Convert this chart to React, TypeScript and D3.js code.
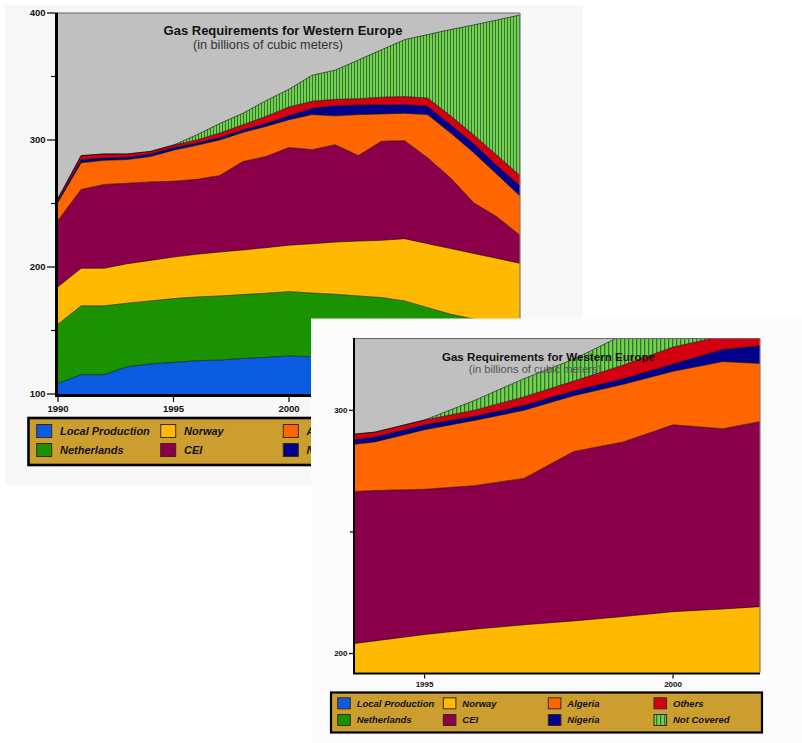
import React from 'react';
import * as d3 from 'd3';

const years = [1990, 1991, 1992, 1993, 1994, 1995, 1996, 1997, 1998, 1999, 2000, 2001, 2002, 2003, 2004, 2005, 2006, 2007, 2008, 2009, 2010];
const localProduction = [108.4, 115.2, 115.2, 121.5, 123.6, 124.9, 126.2, 126.7, 128, 128.8, 130, 129.3, 128, 127, 126, 124, 122, 120, 118, 116, 114];
const netherlands = [46.6, 54.2, 54.2, 50, 49.7, 50.2, 50.2, 50.5, 50.3, 50.5, 50.6, 50.2, 50.5, 50.2, 49.9, 49.3, 46, 42.8, 41, 39, 36];
const norway = [29.5, 29.6, 29.6, 31.1, 31.9, 32.7, 33.6, 34.6, 35.1, 35.9, 36.6, 38.8, 41.1, 43.2, 45.1, 49, 50.4, 51.7, 51.6, 51.8, 52.9];
const cei = [52.2, 62, 66, 63.4, 61.8, 59.7, 59, 60.2, 69.6, 71.8, 76.8, 74.1, 76.7, 67.3, 78, 77.2, 67.6, 55.5, 39.9, 32.7, 22.1];
const algeria = [14.3, 21, 19, 18.6, 20, 24.5, 26.8, 28, 23, 23.7, 22, 27.6, 22.7, 32.3, 21.5, 21.5, 34, 35.5, 39.5, 33.5, 31];
const nigeria = [1.5, 2.5, 2, 1.9, 2, 2, 1.7, 2, 2, 2.3, 3, 5, 8, 7.5, 7, 7, 6.5, 6.5, 7, 7, 8];
const others = [1.5, 3.2, 3, 2.5, 2, 2, 2.5, 3.5, 4, 5.6, 7, 5.5, 5, 5, 6.2, 6.2, 6.5, 7, 7, 8, 8];
const notCovered = [0, 0, 0, 0, 0, 0, 4, 7.5, 9, 12.4, 14, 20.5, 23, 30.5, 37.3, 44.8, 50, 68, 86.6, 106.5, 126.4];

const seriesNames = ['Local Production', 'Netherlands', 'Norway', 'CEI', 'Algeria', 'Nigeria', 'Others', 'Not Covered'];
const seriesValues = [localProduction, netherlands, norway, cei, algeria, nigeria, others, notCovered];
const seriesColors = ['#0a5ce0', '#1b9200', '#ffb900', '#8c004b', '#ff6600', '#00008b', '#d30012', 'url(#PAT)'];

const mainYMajor = [100, 200, 300, 400];
const mainYMinor = [150, 250, 350];
const mainXTicks = [1990, 1995, 2000, 2005, 2010];
const insetYMajor = [200, 300];
const insetYMinor = [250];
const insetXTicks = [1995, 2000];

const titleText = 'Gas Requirements for Western Europe';
const subtitleText = '(in billions of cubic meters)';

const table = years.map((yr, i) => {
  const row: any = { year: yr };
  seriesNames.forEach((n, k) => (row[n] = seriesValues[k][i]));
  return row;
});
const stacked = d3.stack<any>().keys(seriesNames)(table);

const FONT = '"Liberation Sans", Arial, sans-serif';

function Plot(props: any) {
  const { x, y, id, patId, left, right, top, bottom, yMajor, yMinor, xTicks, tickFs, majLen, minLen, axisW, titleX, titleY, titleFs, subX, subY, subFs, subColor } = props;
  const area = d3.area<any>().x((d) => x(d.data.year)).y0((d) => y(d[0])).y1((d) => y(d[1]));
  const line = d3.line<any>().x((d) => x(d.data.year)).y((d) => y(d[1]));
  return (
    <g>
      <defs>
        <clipPath id={id}>
          <rect x={left} y={top} width={right - left} height={bottom - top} />
        </clipPath>
      </defs>
      <rect x={left} y={top} width={right - left} height={bottom - top} fill="#c0c0c0" />
      <g clipPath={`url(#${id})`}>
        {stacked.map((layer, k) => (
          <path key={k} d={area(layer) || ''} fill={seriesColors[k].replace('PAT', patId)} />
        ))}
        {stacked.map((layer, k) => (
          <path key={'l' + k} d={line(layer) || ''} fill="none" stroke="#000" strokeOpacity={0.55} strokeWidth={1} />
        ))}
      </g>
      <line x1={left} x2={right} y1={top} y2={top} stroke="#666" strokeWidth={1.2} />
      <line x1={right} x2={right} y1={top} y2={bottom} stroke="#777" strokeWidth={1.2} />
      <line x1={left - axisW / 2} x2={left - axisW / 2} y1={top - 0.5} y2={bottom + axisW / 2} stroke="#000" strokeWidth={axisW} />
      <line x1={left - axisW} x2={right} y1={bottom + axisW / 2} y2={bottom + axisW / 2} stroke="#000" strokeWidth={axisW} />
      {yMajor.map((v: number) => (
        <g key={'ym' + v}>
          <line x1={left - axisW - majLen} x2={left - axisW} y1={y(v)} y2={y(v)} stroke="#000" strokeWidth={1.2} />
          <text x={left - axisW - majLen - 1.5} y={y(v) + tickFs * 0.36} textAnchor="end" fontFamily={FONT} fontWeight="bold" fontSize={tickFs} fill="#111">{v}</text>
        </g>
      ))}
      {yMinor.map((v: number) => (
        <line key={'yn' + v} x1={left - axisW - minLen} x2={left - axisW} y1={y(v)} y2={y(v)} stroke="#000" strokeWidth={1.2} />
      ))}
      {xTicks.map((t: number) => (
        <g key={'x' + t}>
          <line x1={x(t)} x2={x(t)} y1={bottom + axisW} y2={bottom + axisW + minLen + 1} stroke="#000" strokeWidth={1.2} />
          <text x={x(t)} y={bottom + axisW + minLen + 1 + tickFs * 1.05} textAnchor="middle" fontFamily={FONT} fontWeight="bold" fontSize={tickFs} fill="#111">{t}</text>
        </g>
      ))}
      <text x={titleX} y={titleY} textAnchor="middle" fontFamily={FONT} fontWeight="bold" fontSize={titleFs} fill="#111">{titleText}</text>
      <text x={subX} y={subY} textAnchor="middle" fontFamily={FONT} fontSize={subFs} fill={subColor}>{subtitleText}</text>
    </g>
  );
}

function Legend(props: any) {
  const { x0, y0, w, h, colX, rowY, sw, sh, textDx, fs, patId, bw } = props;
  return (
    <g>
      <rect x={x0} y={y0} width={w} height={h} fill="#cc9e30" stroke="#000" strokeWidth={bw} />
      {seriesNames.map((n, i) => {
        const cx = colX[Math.floor(i / 2)];
        const cy = rowY[i % 2];
        return (
          <g key={n}>
            <rect x={cx} y={cy - sh / 2} width={sw} height={sh} fill={seriesColors[i].replace('PAT', patId)} stroke="#3a2a10" strokeWidth={1} />
            <text x={cx + textDx} y={cy + fs * 0.36} fontFamily={FONT} fontWeight="bold" fontStyle="italic" fontSize={fs} fill="#111">{n}</text>
          </g>
        );
      })}
    </g>
  );
}

const mainLegendCols = [36.7, 160.7, 283.3, 407];
const insetLegendCols = [337.7, 443.3, 548.3, 654];

export default function App() {
  const mx = d3.scaleLinear().domain([1990, 2010]).range([58, 520]);
  const my = d3.scaleLinear().domain([100, 400]).range([394, 13]);
  const ix = d3.scaleLinear().domain([1993.6, 2001.75]).range([355, 760]);
  const iy = d3.scaleLinear().domain([192.2, 329.5]).range([672.5, 338.5]);
  return (
    <svg width={802} height={743} style={{ position: 'absolute', left: 0, top: 0, background: '#fff' }}>
      <defs>
        <pattern id="patMain" patternUnits="userSpaceOnUse" width={3} height={10}>
          <rect x={0} y={0} width={3} height={10} fill="#6ed24e" />
          <rect x={0} y={0} width={1} height={10} fill="#3a7030" />
        </pattern>
        <pattern id="patInset" patternUnits="userSpaceOnUse" width={4} height={10}>
          <rect x={0} y={0} width={4} height={10} fill="#6ed24e" />
          <rect x={0} y={0} width={1.3} height={10} fill="#3a7030" />
        </pattern>
      </defs>
      <rect x={5} y={5} width={578} height={480} fill="#f8f8f8" />
      <Plot x={mx} y={my} id="clipMain" patId="patMain" left={58} right={520} top={13} bottom={394}
        yMajor={mainYMajor} yMinor={mainYMinor} xTicks={mainXTicks} tickFs={9.5} majLen={8} minLen={4} axisW={3}
        titleX={283} titleY={34.5} titleFs={13} subX={268} subY={48.5} subFs={12.7} subColor="#333" />
      <Legend x0={28.5} y0={418} w={508} h={47} colX={mainLegendCols} rowY={[431, 450]} sw={15} sh={13} textDx={23.3} fs={11} patId="patMain" bw={2.6} />
      <rect x={311} y={318.5} width={491} height={424.5} fill="#fcfcfc" />
      <Plot x={ix} y={iy} id="clipInset" patId="patInset" left={355} right={760} top={338.5} bottom={672.5}
        yMajor={insetYMajor} yMinor={insetYMinor} xTicks={insetXTicks} tickFs={8} majLen={4} minLen={3} axisW={2}
        titleX={548.4} titleY={361} titleFs={11.6} subX={535} subY={372.5} subFs={11.2} subColor="#555" />
      <Legend x0={331} y0={692.5} w={431} h={40} colX={insetLegendCols} rowY={[703.3, 720]} sw={12.6} sh={11} textDx={19} fs={9.5} patId="patInset" bw={2.2} />
    </svg>
  );
}
